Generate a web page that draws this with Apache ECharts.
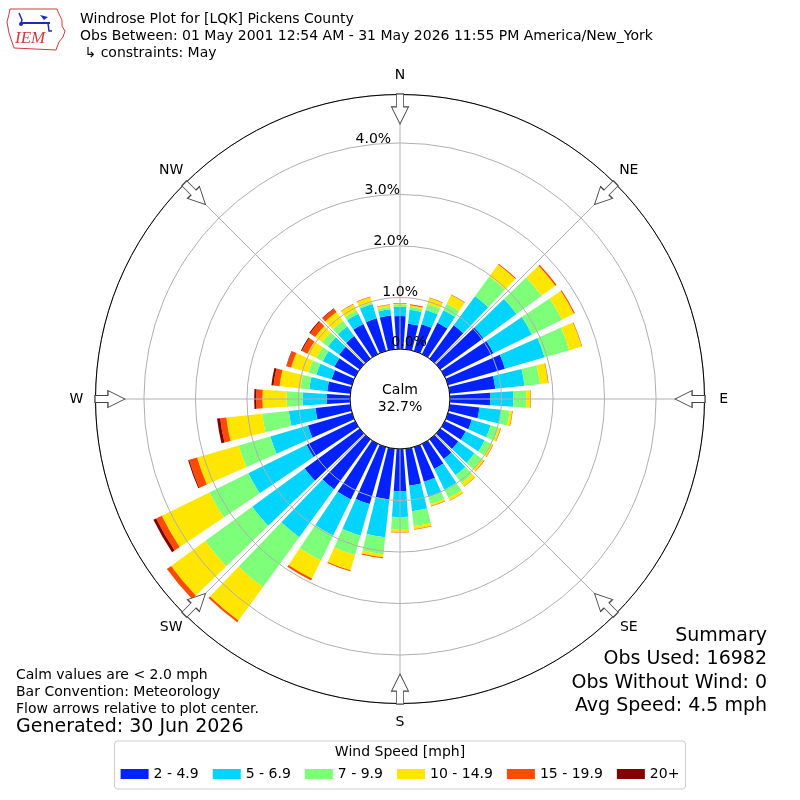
<!DOCTYPE html>
<html><head><meta charset="utf-8">
<script src="https://cdn.jsdelivr.net/npm/echarts@6/dist/echarts.min.js"></script>
<style>html,body{margin:0;padding:0;background:#fff}#c{width:800px;height:800px}</style>
</head><body><div id="c"></div>
<script>
// ---- data ----
const directions = ['0','10','20','30','40','50','60','70','80','90','100','110','120','130','140','150','160','170',
  '180','190','200','210','220','230','240','250','260','270','280','290','300','310','320','330','340','350'];
const speedBins = ['2 - 4.9','5 - 6.9','7 - 9.9','10 - 14.9','15 - 19.9','20+'];
const binColors = ['#0022ff','#00d4ff','#7dff7a','#ffe600','#ff4a00','#800000'];
// percent of observations per direction (0..350 deg) for each speed bin
const bin2to5  = [0.64,0.50,0.54,0.68,0.80,1.03,1.05,1.15,0.89,0.78,0.58,0.48,0.45,0.43,0.47,0.54,0.70,0.72,
                  0.82,0.99,1.15,1.20,1.20,1.32,1.05,0.89,0.68,0.45,0.45,0.41,0.45,0.49,0.54,0.65,0.66,0.66];
const bin5to7  = [0.18,0.27,0.29,0.27,0.70,0.80,0.83,0.80,0.57,0.45,0.42,0.38,0.41,0.39,0.39,0.45,0.31,0.50,
                  0.50,0.74,0.64,0.78,1.15,1.26,1.26,0.76,0.52,0.47,0.35,0.31,0.25,0.27,0.23,0.22,0.29,0.12];
const bin7to10 = [0.05,0.06,0.12,0.14,0.47,0.60,0.65,0.50,0.30,0.25,0.17,0.16,0.13,0.17,0.19,0.18,0.14,0.29,
                  0.25,0.33,0.39,0.54,1.20,1.13,0.84,0.64,0.52,0.31,0.17,0.16,0.14,0.14,0.14,0.08,0.03,0.05];
const bin10to15= [0.01,0.03,0.12,0.19,0.29,0.33,0.26,0.25,0.16,0.08,0.05,0.04,0.05,0.06,0.08,0.05,0.04,0.06,
                  0.04,0.06,0.31,0.39,0.80,0.82,1.03,0.84,0.70,0.47,0.41,0.35,0.19,0.17,0.21,0.13,0.11,0.04];
const bin15to20= [0.01,0.02,0.01,0.01,0.02,0.03,0.02,0.01,0.01,0.01,0.01,0.01,0.01,0.01,0.01,0.01,0.01,0.01,
                  0.01,0.02,0.02,0.04,0.04,0.10,0.12,0.16,0.12,0.12,0.12,0.09,0.12,0.12,0.08,0.01,0.01,0.01];
const bin20plus= [0,0,0,0,0,0,0,0,0,0,0,0,0,0,0,0,0,0,
                  0,0,0,0,0,0,0.06,0.02,0.06,0.04,0.04,0.01,0.02,0.02,0.01,0,0,0];
const binValues = [bin2to5, bin5to7, bin7to10, bin10to15, bin15to20, bin20plus];

const compassLabels = ['N','NE','E','SE','S','SW','W','NW'];
const compassAngles = [0,45,90,135,180,225,270,315];
const radialTicks = [0,1,2,3,4];
const radialMax = 4.94;
const calmPct = 32.7;
const titleLines = ['Windrose Plot for [LQK] Pickens County',
  'Obs Between: 01 May 2001 12:54 AM - 31 May 2026 11:55 PM America/New_York',
  ' \u21b3 constraints: May'];
const noteLines = ['Calm values are < 2.0 mph','Bar Convention: Meteorology','Flow arrows relative to plot center.'];
const generatedText = 'Generated: 30 Jun 2026';
const summaryLines = ['Summary','Obs Used: 16982','Obs Without Wind: 0','Avg Speed: 4.5 mph'];

// ---- layout ----
const FONT = 'DejaVu Sans';
const CX = 400, CY = 399, R0 = 50, R1 = 304.5;
const arrowR = 4.66;      // arrow centre, in axis units
const labelGap = 33.5;    // px from arrow centre to compass label centre
const grid = '#b0b0b0';
const F = (px) => px + 'px "' + FONT + '"';

const chart = echarts.init(document.getElementById('c'), null, {renderer:'canvas'});
const polarBox = {center:[CX, CY], radius:[R0, R1]};

const barSeries = speedBins.map((name, i) => ({
  name, type:'bar', coordinateSystem:'polar', polarIndex:0, stack:'wind',
  data: binValues[i], barCategoryGap:'22%', z:2,
  itemStyle:{color: binColors[i]}, emphasis:{disabled:true}
}));

const arrowPath = 'path://M5,0 L12,0 L12,13 L17,13 L8.5,30 L0,13 L5,13 Z';
const arrowData = compassAngles.map((a, i) => {
  const rad = a * Math.PI / 180;
  return {value:[arrowR, a], name:compassLabels[i],
    label:{offset:[Math.sin(rad) * labelGap, -Math.cos(rad) * labelGap]}};
});

const graphics = [];
// logo (IEM)
graphics.push({type:'polyline', z:10, shape:{points:[[10,9],[57,9],[59,14],[62,20],[62,26],[65,31],[63,37],[59,42],[57,47],[56,50],[14,48],[12,42],[9,33],[7,22],[9,14],[10,9]]},
  style:{stroke:'#d23a3a', fill:null, lineWidth:1}});
graphics.push({type:'polyline', z:10, shape:{points:[[21,23],[50,23]]}, style:{stroke:'#1a2fb0', lineWidth:2}});
graphics.push({type:'polyline', z:10, shape:{points:[[19,13],[22,20],[21,23]]}, style:{stroke:'#1a2fb0', lineWidth:1.5, fill:null}});
graphics.push({type:'polygon', z:10, shape:{points:[[40,15],[48,17],[44,20]]}, style:{fill:'#1a2fb0'}});
graphics.push({type:'polyline', z:10, shape:{points:[[48,23],[49,31],[52,31]]}, style:{stroke:'#1a2fb0', lineWidth:1.5, fill:null}});
graphics.push({type:'circle', z:10, shape:{cx:21, cy:24, r:2}, style:{fill:'#1a2fb0'}});
graphics.push({type:'text', z:10, left:15, top:30, style:{text:'IEM', font:'italic 17px "Liberation Serif", serif', fill:'#d23a3a'}});
// titles
titleLines.forEach((t, i) => graphics.push({type:'text', left:80, top:12 + i*17,
  style:{text:t, font:F(14), fill:'#000'}}));
// calm
graphics.push({type:'text', z:20, x:CX, y:CY, style:{text:'Calm\n' + calmPct.toFixed(1) + '%', font:F(14),
  fill:'#000', align:'center', verticalAlign:'middle', lineHeight:17}});
// notes
noteLines.forEach((t, i) => graphics.push({type:'text', left:16, top:668 + i*17,
  style:{text:t, font:F(14), fill:'#000'}}));
graphics.push({type:'text', left:16, top:718, style:{text:generatedText, font:F(19), fill:'#000'}});
summaryLines.forEach((t, i) => graphics.push({type:'text', x:767, y:636 + i*23.3,
  style:{text:t, font:F(19), fill:'#000', align:'right', verticalAlign:'middle'}}));
// legend title
graphics.push({type:'text', x:400, y:752, z:20, style:{text:'Wind Speed [mph]', font:F(14), fill:'#000', align:'center', verticalAlign:'middle'}});

const option = {
  animation:false,
  backgroundColor:'#fff',
  textStyle:{fontFamily:FONT},
  polar:[polarBox, polarBox, polarBox],
  angleAxis:[
    {polarIndex:0, type:'category', data:directions, startAngle:95, clockwise:true, boundaryGap:true,
     axisLine:{show:false}, axisTick:{show:false}, axisLabel:{show:false}, splitLine:{show:false}},
    {polarIndex:1, type:'value', min:0, max:360, interval:45, startAngle:90, clockwise:true, z:5,
     axisLine:{show:true, lineStyle:{color:'#000', width:1}}, axisTick:{show:false},
     axisLabel:{show:false},
     splitLine:{show:true, lineStyle:{color:grid, width:1}}},
    {polarIndex:2, type:'value', min:0, max:360, startAngle:100, clockwise:true,
     axisLine:{show:false}, axisTick:{show:false}, axisLabel:{show:false}, splitLine:{show:false}}
  ],
  radiusAxis:[
    {polarIndex:0, type:'value', min:0, max:radialMax, axisLine:{show:false}, axisTick:{show:false}, axisLabel:{show:false}, splitLine:{show:false}},
    {polarIndex:1, type:'value', min:0, max:radialMax, interval:1, z:4,
     axisLine:{show:false}, axisTick:{show:false}, axisLabel:{show:false},
     splitLine:{show:true, lineStyle:{color:grid, width:1}}},
    {polarIndex:2, type:'value', min:0, max:radialMax, interval:1, z:8,
     axisLine:{show:false}, axisTick:{show:false}, splitLine:{show:false},
     axisLabel:{show:true, margin:0, align:'left', verticalAlign:'bottom', color:'#000', fontSize:14, fontFamily:FONT,
       formatter:(v) => radialTicks.indexOf(v) >= 0 ? v.toFixed(1) + '%' : ''}}
  ],
  legend:{
    data:speedBins, left:'center', top:741, orient:'horizontal',
    itemWidth:28, itemHeight:10, itemGap:14, icon:'rect',
    padding:[26, 6, 8, 6], borderColor:'#cccccc', borderWidth:1, borderRadius:3,
    textStyle:{fontSize:14, color:'#000', fontFamily:FONT}
  },
  series:[...barSeries,
    {type:'scatter', coordinateSystem:'polar', polarIndex:1, z:9, silent:true,
     data: arrowData,
     symbol:arrowPath, symbolSize:[17,30], symbolRotate:(v) => -v[1],
     itemStyle:{color:'#fff', borderColor:'#444', borderWidth:1, opacity:1},
     label:{show:true, position:'inside', formatter:'{b}', color:'#000', fontSize:14, fontFamily:FONT,
       align:'center', verticalAlign:'middle'},
     emphasis:{disabled:true}}
  ],
  graphic:graphics
};
chart.setOption(option);
</script></body></html>
